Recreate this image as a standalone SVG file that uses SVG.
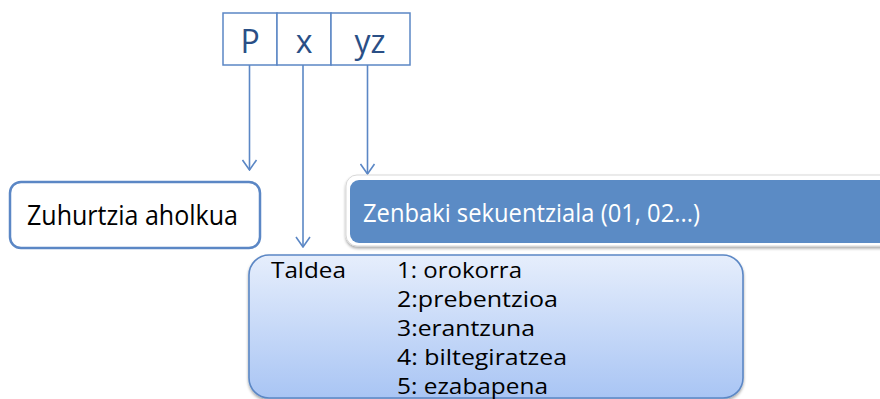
<svg xmlns="http://www.w3.org/2000/svg" width="880" height="399" viewBox="0 0 880 399">
  <style>
    .cell { fill: #ffffff; stroke: #5b87c5; stroke-width: 1.5; }
    .cellText { font-family: "Open Sans", "Liberation Sans", sans-serif; font-size: 32px; fill: #2a4f86; text-anchor: middle; }
    .label { font-family: "Open Sans", "Liberation Sans", sans-serif; fill: #000000; }
    .conn { stroke: #5b87c5; stroke-width: 1.6; fill: none; }
  </style>
  <defs>
    <marker id="vee" viewBox="0 0 12 16" refX="11" refY="8" markerWidth="12" markerHeight="16" markerUnits="userSpaceOnUse" orient="auto">
      <path d="M1 1 L11 8 L1 15" fill="none" stroke="#5b87c5" stroke-width="1.6"/>
    </marker>
    <linearGradient id="groupFill" x1="0" y1="0" x2="0" y2="1">
      <stop offset="0" stop-color="#e6eefc"/>
      <stop offset="1" stop-color="#a9c5f4"/>
    </linearGradient>
    <filter id="shadow" x="-5%" y="-20%" width="110%" height="150%">
      <feGaussianBlur in="SourceAlpha" stdDeviation="1.5"/>
      <feOffset dx="0" dy="2" result="b"/>
      <feComponentTransfer><feFuncA type="linear" slope="0.35"/></feComponentTransfer>
      <feMerge><feMergeNode/><feMergeNode in="SourceGraphic"/></feMerge>
    </filter>
  </defs>

  <!-- code cells -->
  <g id="cell-P">
    <rect class="cell" x="223" y="13" width="54" height="52"/>
    <text class="cellText" x="250" y="53">P</text>
  </g>
  <g id="cell-x">
    <rect class="cell" x="277" y="13" width="54" height="52"/>
    <text class="cellText" x="304" y="53">x</text>
  </g>
  <g id="cell-yz">
    <rect class="cell" x="331" y="13" width="79" height="52"/>
    <text class="cellText" x="370" y="53">yz</text>
  </g>

  <!-- connectors -->
  <g id="connectors">
    <line class="conn" x1="249.5" y1="65" x2="249.5" y2="170" marker-end="url(#vee)"/>
    <line class="conn" x1="303" y1="65" x2="303" y2="247" marker-end="url(#vee)"/>
    <line class="conn" x1="367.5" y1="65" x2="367.5" y2="174" marker-end="url(#vee)"/>
  </g>

  <!-- P: precautionary advice -->
  <g id="node-zuhurtzia">
    <rect x="10" y="182" width="250" height="66" rx="11" fill="#ffffff" stroke="#5b87c5" stroke-width="2.5"/>
    <text class="label" x="27" y="225" font-size="28" textLength="211" lengthAdjust="spacingAndGlyphs">Zuhurtzia aholkua</text>
  </g>

  <!-- yz: sequential number -->
  <g id="node-zenbaki">
    <rect x="346" y="175" width="550" height="71" rx="11" fill="#ffffff" stroke="#d8d8d8" stroke-width="1" filter="url(#shadow)"/>
    <rect x="350" y="180" width="545" height="63" rx="9" fill="#5b8bc5"/>
    <text x="363" y="222" font-family="'Open Sans', 'Liberation Sans', sans-serif" font-size="26" fill="#ffffff" textLength="337" lengthAdjust="spacingAndGlyphs">Zenbaki sekuentziala (01, 02...)</text>
  </g>

  <!-- x: group -->
  <g id="node-taldea">
    <rect x="249" y="255" width="494" height="143" rx="20" fill="url(#groupFill)" stroke="#5b87c5" stroke-width="1.6" filter="url(#shadow)"/>
    <g class="label" font-size="22">
      <text x="271" y="278" textLength="75" lengthAdjust="spacingAndGlyphs">Taldea</text>
      <text x="397" y="278" textLength="125" lengthAdjust="spacingAndGlyphs">1: orokorra</text>
      <text x="397" y="307" textLength="161" lengthAdjust="spacingAndGlyphs">2:prebentzioa</text>
      <text x="397" y="336" textLength="138" lengthAdjust="spacingAndGlyphs">3:erantzuna</text>
      <text x="397" y="365" textLength="170" lengthAdjust="spacingAndGlyphs">4: biltegiratzea</text>
      <text x="397" y="394" textLength="151" lengthAdjust="spacingAndGlyphs">5: ezabapena</text>
    </g>
  </g>
</svg>
